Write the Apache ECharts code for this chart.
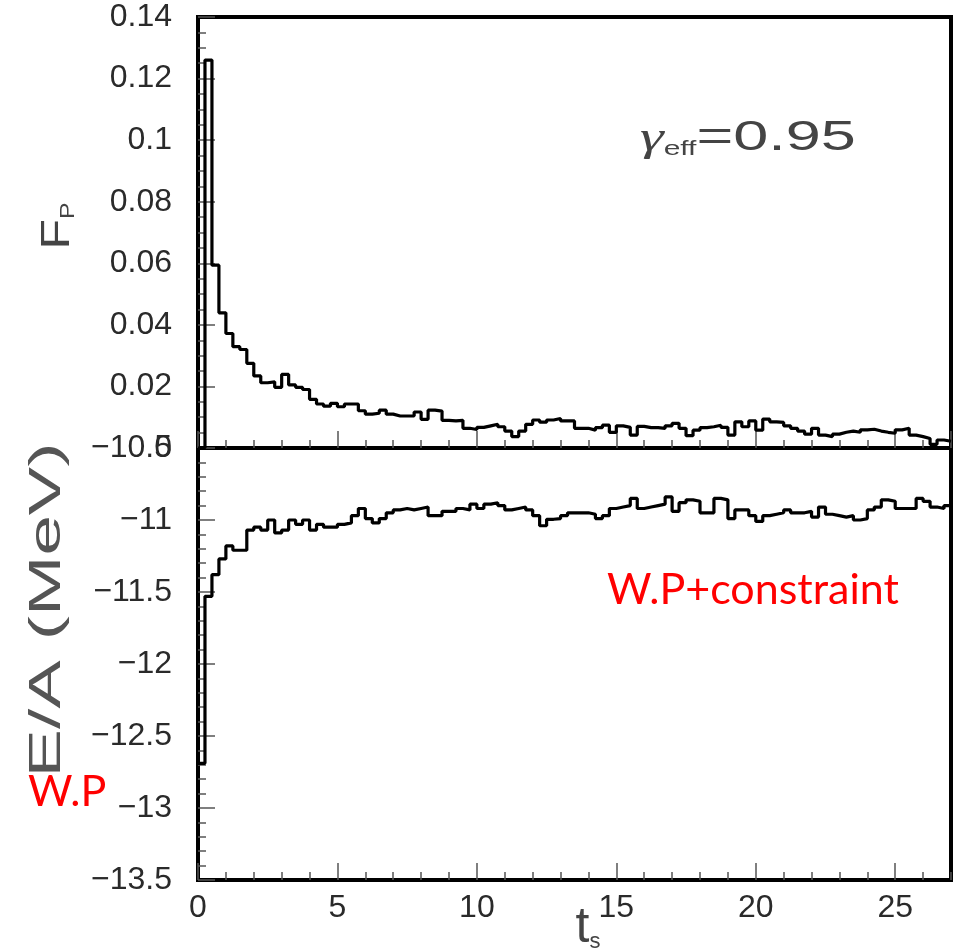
<!DOCTYPE html>
<html><head><meta charset="utf-8">
<script src="https://cdn.jsdelivr.net/npm/echarts@6/dist/echarts.min.js"></script>
<style>html,body{margin:0;padding:0;background:#fff}#c{width:970px;height:950px}</style>
</head><body><div id="c"></div>
<script>
// ---------- data ----------
const binWidth = 0.25;          // histogram bin width in t_s
const xMin = 0, xMax = 27;
const xMajorTicks = [0, 5, 10, 15, 20, 25];
const fpTickLabels = ['0', '0.02', '0.04', '0.06', '0.08', '0.1', '0.12', '0.14'];
const eaTickLabels = ['−13.5', '−13', '−12.5', '−12', '−11.5', '−11', '−10.5'];

// F_P per bin (top panel)
const fpValues = [
  0, 0.126, 0.0594, 0.0439, 0.0372, 0.0329, 0.032, 0.0275, 0.0234, 0.0212,
  0.0215, 0.0197, 0.0239, 0.0205, 0.0197, 0.019, 0.0158, 0.0143, 0.0136, 0.0145,
  0.0134, 0.0143, 0.0143, 0.0121, 0.011, 0.0113, 0.0123, 0.011, 0.0104, 0.0104,
  0.0104, 0.0117, 0.0093, 0.0123, 0.012, 0.009, 0.0088, 0.009, 0.0064, 0.006,
  0.0067, 0.0072, 0.0077, 0.0069, 0.0055, 0.0037, 0.0055, 0.0077, 0.0091, 0.0084,
  0.0091, 0.0096, 0.0088, 0.0088, 0.0064, 0.0064, 0.0058, 0.0066, 0.0074, 0.0051,
  0.0072, 0.0067, 0.0042, 0.007, 0.0066, 0.0066, 0.0064, 0.0072, 0.008, 0.0064,
  0.004, 0.0058, 0.0066, 0.0069, 0.0074, 0.0067, 0.0042, 0.0085, 0.0069, 0.0088,
  0.0058, 0.0094, 0.0085, 0.0083, 0.0072, 0.0064, 0.0055, 0.0045, 0.0064, 0.0042,
  0.0037, 0.0045, 0.0051, 0.0055, 0.0051, 0.0059, 0.0061, 0.0055, 0.0051, 0.0048,
  0.0059, 0.0064, 0.0042, 0.0037, 0.0031, 0.0012, 0.0026, 0.0022
];

// E/A (MeV) per bin (bottom panel)
const eaValues = [
  -12.69, -11.53, -11.38, -11.27, -11.18, -11.21, -11.21, -11.07, -11.05, -11.07,
  -11.0, -11.09, -11.07, -11.0, -11.03, -11.0, -11.07, -11.03, -11.05, -11.05,
  -11.03, -11.02, -10.97, -10.92, -10.99, -11.02, -10.99, -10.95, -10.93, -10.92,
  -10.93, -10.92, -10.91, -10.97, -10.97, -10.94, -10.94, -10.92, -10.93, -10.89,
  -10.92, -10.89, -10.88, -10.9, -10.93, -10.92, -10.91, -10.93, -10.97, -11.04,
  -10.995, -10.99, -10.97, -10.95, -10.95, -10.95, -10.96, -10.99, -10.97, -10.92,
  -10.91, -10.9, -10.85, -10.92, -10.91, -10.9, -10.89, -10.84, -10.94, -10.88,
  -10.86, -10.87, -10.95, -10.95, -10.85, -10.86, -10.99, -10.93, -10.93, -10.97,
  -11.01, -10.97, -10.96, -10.95, -10.93, -10.95, -10.95, -10.94, -10.98, -10.91,
  -10.96, -10.97, -10.98, -10.97, -11.0, -10.99, -10.93, -10.91, -10.86, -10.87,
  -10.92, -10.92, -10.92, -10.85, -10.87, -10.91, -10.92, -10.9
];

// ---------- build ----------
function histPoints(vals) {
  const pts = vals.map((v, i) => [i * binWidth, v]);
  pts.push([vals.length * binWidth, vals[vals.length - 1]]);
  return pts;
}
const tickFont = 'Liberation Sans, Arial, sans-serif';
const tickColor = '#555';
const textColor = '#2a2a2a';

function majorX(gi, showLabels) {
  return {
    type: 'value', gridIndex: gi, min: xMin, max: xMax, interval: 5, position: 'bottom',
    axisLine: { show: false },
    axisTick: { show: true, inside: true, length: 17, lineStyle: { color: tickColor, width: 1.5 } },
    minorTick: { show: false },
    splitLine: { show: false },
    axisLabel: {
      show: showLabels, showMaxLabel: false, fontSize: 32, color: textColor, margin: 12, fontFamily: tickFont,
      formatter: v => (xMajorTicks.indexOf(v) >= 0 ? String(v) : '')
    }
  };
}
function minorX(gi) {
  return {
    type: 'value', gridIndex: gi, min: xMin, max: xMax, interval: 1, position: 'bottom',
    axisLine: { show: false },
    axisTick: { show: true, inside: true, length: 8, lineStyle: { color: tickColor, width: 1.5 } },
    splitLine: { show: false }, axisLabel: { show: false }
  };
}

const chart = echarts.init(document.getElementById('c'));
chart.setOption({
  animation: false,
  backgroundColor: '#fff',
  grid: [
    { left: 198, right: 19, top: 17, height: 431, show: true, borderColor: '#000', borderWidth: 4, backgroundColor: 'transparent' },
    { left: 198, right: 19, top: 448, bottom: 70, show: true, borderColor: '#000', borderWidth: 4, backgroundColor: 'transparent' }
  ],
  xAxis: [majorX(0, false), majorX(1, true), minorX(0), minorX(1)],
  yAxis: [
    {
      type: 'value', gridIndex: 0, min: 0, max: 0.14, interval: 0.02,
      axisLine: { show: false },
      axisTick: { show: true, inside: true, length: 17, lineStyle: { color: tickColor, width: 1.5 } },
      minorTick: { show: true, splitNumber: 4, length: 8, lineStyle: { color: tickColor, width: 1.5 } },
      splitLine: { show: false },
      axisLabel: {
        fontSize: 32, color: textColor, margin: 26, fontFamily: tickFont,
        formatter: v => fpTickLabels[Math.round(v / 0.02)]
      }
    },
    {
      type: 'value', gridIndex: 1, min: -13.5, max: -10.5, interval: 0.5,
      axisLine: { show: false },
      axisTick: { show: true, inside: true, length: 17, lineStyle: { color: tickColor, width: 1.5 } },
      minorTick: { show: true, splitNumber: 5, length: 8, lineStyle: { color: tickColor, width: 1.5 } },
      splitLine: { show: false },
      axisLabel: {
        fontSize: 32, color: textColor, margin: 26, fontFamily: tickFont,
        formatter: v => eaTickLabels[Math.round((v + 13.5) / 0.5)]
      }
    }
  ],
  series: [
    {
      type: 'line', xAxisIndex: 0, yAxisIndex: 0, step: 'end', symbol: 'none',
      lineStyle: { color: '#000', width: 3.2 }, data: histPoints(fpValues)
    },
    {
      type: 'line', xAxisIndex: 1, yAxisIndex: 1, step: 'end', symbol: 'none',
      lineStyle: { color: '#000', width: 3.2 }, data: histPoints(eaValues)
    }
  ],
  graphic: [
    {
      type: 'text', x: 58, y: 226, rotation: Math.PI / 2, scaleX: 1.25,
      style: {
        text: '{a|F}{b|P}', textAlign: 'center', textVerticalAlign: 'middle', fill: '#444',
        rich: {
          a: { fontSize: 40, fontFamily: tickFont, fill: '#444', verticalAlign: 'bottom' },
          b: { fontSize: 20, fontFamily: tickFont, fill: '#444', verticalAlign: 'bottom' }
        }
      }
    },
    {
      type: 'text', x: 48, y: 610, rotation: Math.PI / 2, scaleX: 1.65,
      style: {
        text: 'E/A (MeV)', textAlign: 'center', textVerticalAlign: 'middle',
        fontSize: 44, fontFamily: tickFont, fill: '#555'
      }
    },
    {
      type: 'text', x: 588, y: 928,
      style: {
        text: '{t|t}{s|s}', textAlign: 'center', textVerticalAlign: 'middle', fill: '#444',
        rich: {
          t: { fontSize: 50, fontFamily: tickFont, fill: '#444', verticalAlign: 'bottom' },
          s: { fontSize: 22, fontFamily: tickFont, fill: '#444', verticalAlign: 'bottom' }
        }
      }
    },
    {
      type: 'text', x: 640, y: 138, scaleX: 1.5,
      style: {
        text: '{g|γ}{e|eff}{v|=0.95}', textAlign: 'left', textVerticalAlign: 'middle', fill: '#444',
        rich: {
          g: { fontSize: 40, fontFamily: 'Liberation Serif', fontStyle: 'italic', fill: '#444', verticalAlign: 'bottom' },
          e: { fontSize: 20, fontFamily: tickFont, fill: '#444', verticalAlign: 'bottom' },
          v: { fontSize: 42, fontFamily: tickFont, fill: '#444', verticalAlign: 'bottom' }
        }
      }
    },
    {
      type: 'text', x: 607, y: 590,
      style: { text: 'W.P+constraint', textAlign: 'left', textVerticalAlign: 'middle', fontSize: 43, fontFamily: 'Lato', fill: '#ff0000' }
    },
    {
      type: 'text', x: 28, y: 792,
      style: { text: 'W.P', textAlign: 'left', textVerticalAlign: 'middle', fontSize: 43, fontFamily: 'Lato', fill: '#ff0000' }
    }
  ]
});
</script>
</body></html>
